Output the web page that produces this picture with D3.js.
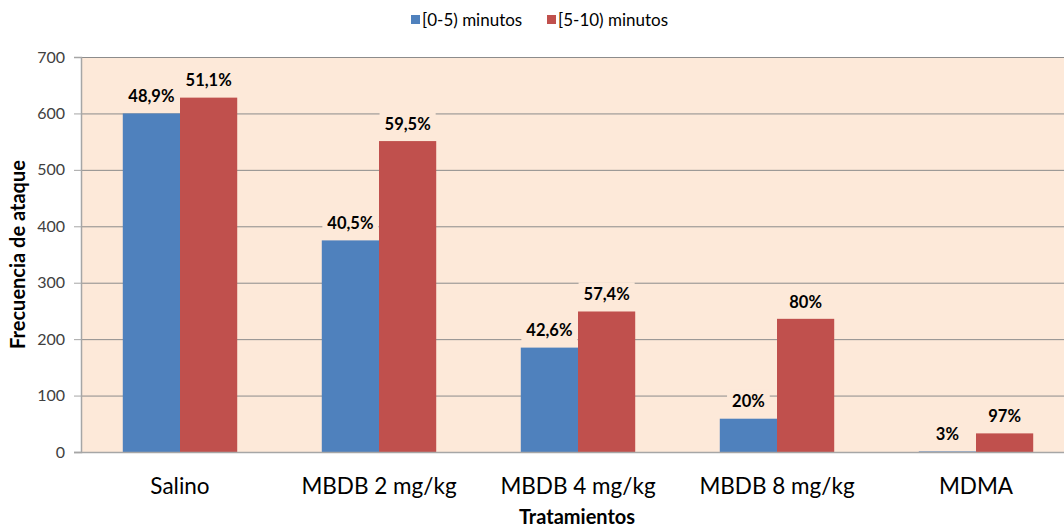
<!DOCTYPE html>
<html>
<head>
<meta charset="utf-8">
<script src="https://cdn.jsdelivr.net/npm/d3@7"></script>
<style>
  body { margin: 0; background: #fff; }
  svg { display: block; font-family: Lato, "Open Sans", sans-serif; }
</style>
</head>
<body>
<div id="container"></div>
<script>
const categories = ['Salino', 'MBDB 2 mg/kg', 'MBDB 4 mg/kg', 'MBDB 8 mg/kg', 'MDMA'];
const seriesNames = ['[0-5) minutos', '[5-10) minutos'];
const early = [600, 375, 185, 59, 1];
const late = [628, 551, 249, 236, 33];
const earlyLabels = ['48,9%', '40,5%', '42,6%', '20%', '3%'];
const lateLabels = ['51,1%', '59,5%', '57,4%', '80%', '97%'];
const yTicks = [0, 100, 200, 300, 400, 500, 600, 700];

const width = 1064;
const height = 527;
const margin = {top: 57, right: 0, bottom: 75, left: 81};
const colors = ['#4F81BD', '#C0504D'];
const bg = '#FDE9D9';

const svg = d3.select('#container')
              .append('svg')
              .attr('width', width)
              .attr('height', height);

// the plot area runs a little past the right edge of the picture
const x = d3.scaleBand()
            .domain(categories)
            .range([margin.left, 1075])
            .paddingInner(0.425)
            .paddingOuter(0.21);

const sub = d3.scaleBand()
              .domain([0, 1])
              .range([0, x.bandwidth()]);

const y = d3.scaleLinear()
            .domain([0, 700])
            .range([height - margin.bottom, margin.top]);

// plot area
svg.append('rect')
   .attr('x', margin.left)
   .attr('y', margin.top)
   .attr('width', width - margin.right - margin.left)
   .attr('height', y(0) - margin.top)
   .attr('fill', bg);

// gridlines
svg.selectAll('.grid')
   .data(yTicks.filter(d => d > 0))
   .enter()
   .append('line')
   .attr('x1', margin.left)
   .attr('x2', width - margin.right)
   .attr('y1', d => y(d) + 0.5)
   .attr('y2', d => y(d) + 0.5)
   .attr('stroke', '#8C8C8C')
   .attr('stroke-width', 1);

// y axis
const yAxis = svg.append('g')
                 .attr('transform', `translate(${margin.left},0)`)
                 .call(d3.axisLeft(y).tickValues(yTicks).tickSize(7).tickPadding(9));
yAxis.select('.domain').attr('stroke', '#A6A6A6').attr('stroke-width', 1.5);
yAxis.selectAll('.tick line').attr('stroke', '#A6A6A6');
yAxis.selectAll('.tick text')
     .attr('fill', '#404040')
     .style('font-size', '16px')
     .style('font-family', 'Lato, sans-serif');

// bars
const data = categories.map((c, i) => ({
    cat: c,
    vals: [early[i], late[i]],
    labels: [earlyLabels[i], lateLabels[i]]
}));

const group = svg.selectAll('.group')
                 .data(data)
                 .enter()
                 .append('g')
                 .attr('class', 'group')
                 .attr('transform', d => `translate(${x(d.cat)},0)`);

group.selectAll('rect')
     .data(d => d.vals.map((v, k) => ({v, k})))
     .enter()
     .append('rect')
     .attr('x', d => sub(d.k))
     .attr('y', d => y(d.v))
     .attr('width', sub.bandwidth())
     .attr('height', d => y(0) - y(d.v))
     .attr('fill', d => colors[d.k]);

// x axis line
svg.append('line')
   .attr('x1', margin.left - 7)
   .attr('x2', width)
   .attr('y1', y(0) + 0.5)
   .attr('y2', y(0) + 0.5)
   .attr('stroke', '#A6A6A6')
   .attr('stroke-width', 1.5);

// value labels with plot-area background
const lab = group.selectAll('.lab')
                 .data(d => d.vals.map((v, k) => ({v, k, t: d.labels[k]})))
                 .enter()
                 .append('g')
                 .attr('class', 'lab')
                 .attr('transform', d => `translate(${sub(d.k) + sub.bandwidth() / 2},${y(d.v) - 17})`);

lab.append('text')
   .attr('text-anchor', 'middle')
   .attr('dy', '0.35em')
   .attr('fill', '#000')
   .style('font-size', '16.5px')
   .style('font-weight', 'bold')
   .text(d => d.t)
   .each(function() {
       const b = this.getBBox();
       d3.select(this.parentNode)
         .insert('rect', 'text')
         .attr('x', b.x - 5)
         .attr('y', b.y - 2)
         .attr('width', b.width + 10)
         .attr('height', b.height + 4)
         .attr('fill', bg);
   });

// category labels
svg.selectAll('.cat')
   .data(categories)
   .enter()
   .append('text')
   .attr('x', d => x(d) + x.bandwidth() / 2)
   .attr('y', 494)
   .attr('text-anchor', 'middle')
   .attr('fill', '#000')
   .style('font-size', '22.5px')
   .text(d => d);

// axis titles
svg.append('text')
   .attr('x', 577)
   .attr('y', 524)
   .attr('text-anchor', 'middle')
   .style('font-size', '20px')
   .style('font-weight', 'bold')
   .text('Tratamientos');

svg.append('text')
   .attr('transform', `translate(25,${(margin.top + y(0)) / 2}) rotate(-90)`)
   .attr('text-anchor', 'middle')
   .style('font-size', '20px')
   .style('font-weight', 'bold')
   .text('Frecuencia de ataque');

// legend
const legendX = [411, 547];
const legend = svg.selectAll('.legend')
                  .data(seriesNames)
                  .enter()
                  .append('g')
                  .attr('transform', (d, i) => `translate(${legendX[i]},20)`);
legend.append('rect')
      .attr('x', 0)
      .attr('y', -5)
      .attr('width', 9)
      .attr('height', 9)
      .attr('fill', (d, i) => colors[i]);
legend.append('text')
      .attr('x', 11)
      .attr('dy', '0.35em')
      .attr('fill', '#000')
      .style('font-size', '17px')
      .text(d => d);
</script>
</body>
</html>
